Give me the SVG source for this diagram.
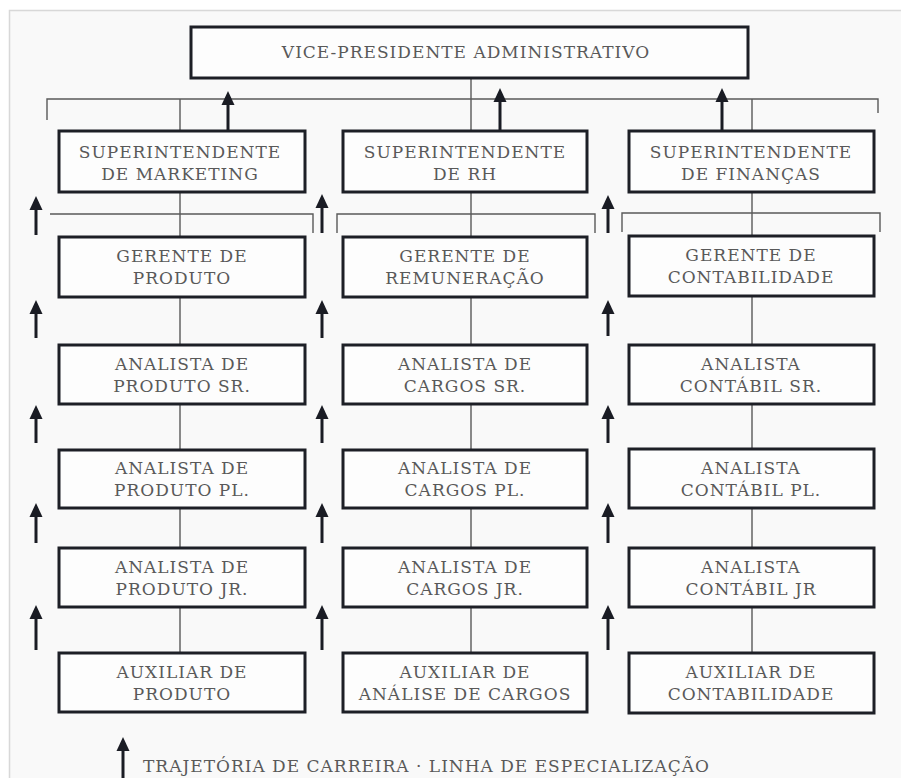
<svg xmlns="http://www.w3.org/2000/svg" width="901" height="778" viewBox="0 0 901 778">
  <style>
    .box { fill: #fdfdfd; stroke: #1d1f26; stroke-width: 3; }
    .lbl { font-family: "DejaVu Serif", "Liberation Serif", serif; font-size: 17px; letter-spacing: 1px; fill: #595959; text-anchor: middle; }
    .link { fill: none; stroke: #5a5a5a; stroke-width: 1.4; }
    .arrow { stroke: #1a1c24; stroke-width: 3; fill: none; marker-end: url(#head); }
    .legend { font-family: "DejaVu Serif", "Liberation Serif", serif; font-size: 17px; letter-spacing: 1px; fill: #595959; }
  </style>
  <defs>
    <marker id="head" markerUnits="userSpaceOnUse" markerWidth="14" markerHeight="14" viewBox="0 0 14 14" refX="7" refY="7" orient="auto">
      <path d="M0,0.5 L14,7 L0,13.5 Z" fill="#1a1c24"/>
    </marker>
  </defs>

  <!-- page and frame -->
  <rect x="0" y="0" width="901" height="778" fill="#ffffff"/>
  <rect x="9.5" y="10.5" width="892" height="768" fill="#f9f9f9"/>
  <path d="M901,10.5 H9.5 V778" fill="none" stroke="#d8d8d8" stroke-width="1.5"/>

  <!-- connectors -->
  <g id="connectors">
    <!-- top bracket -->
    <path class="link" d="M47,120 V99 H878 V113"/>
    <!-- column spines -->
    <line class="link" x1="180" y1="99" x2="180" y2="653"/>
    <line class="link" x1="471" y1="78" x2="471" y2="653"/>
    <line class="link" x1="752" y1="99" x2="752" y2="653"/>
    <!-- second-level brackets -->
    <path class="link" d="M50,214 H313 V233"/>
    <path class="link" d="M337,233 V214 H595 V233"/>
    <path class="link" d="M622,232 V213 H880 V232"/>

    <!-- career path arrows up to the vice-president -->
    <line class="arrow" x1="228" y1="131" x2="228" y2="98"/>
    <line class="arrow" x1="500" y1="131" x2="500" y2="95"/>
    <line class="arrow" x1="722" y1="131" x2="722" y2="95"/>

    <!-- career path arrows in the side lanes -->
    <g id="lane-left">
      <line class="arrow" x1="36" y1="235" x2="36" y2="203"/>
      <line class="arrow" x1="36" y1="338" x2="36" y2="307"/>
      <line class="arrow" x1="36" y1="443" x2="36" y2="412"/>
      <line class="arrow" x1="36" y1="543" x2="36" y2="510"/>
      <line class="arrow" x1="36" y1="650" x2="36" y2="612"/>
    </g>
    <g id="lane-mid">
      <line class="arrow" x1="322" y1="233" x2="322" y2="201"/>
      <line class="arrow" x1="322" y1="338" x2="322" y2="307"/>
      <line class="arrow" x1="322" y1="443" x2="322" y2="412"/>
      <line class="arrow" x1="322" y1="543" x2="322" y2="510"/>
      <line class="arrow" x1="322" y1="650" x2="322" y2="612"/>
    </g>
    <g id="lane-right">
      <line class="arrow" x1="608" y1="233" x2="608" y2="202"/>
      <line class="arrow" x1="608" y1="336" x2="608" y2="307"/>
      <line class="arrow" x1="608" y1="443" x2="608" y2="412"/>
      <line class="arrow" x1="608" y1="543" x2="608" y2="510"/>
      <line class="arrow" x1="608" y1="650" x2="608" y2="612"/>
    </g>
  </g>

  <!-- top -->
  <g id="vp">
    <rect class="box" x="191" y="27" width="557" height="51"/>
    <text class="lbl" x="466" y="58">VICE-PRESIDENTE ADMINISTRATIVO</text>
  </g>

  <!-- marketing column -->
  <g id="sup-marketing">
    <rect class="box" x="59" y="131" width="246" height="61"/>
    <text class="lbl" x="180" y="158">SUPERINTENDENTE</text>
    <text class="lbl" x="180" y="180">DE MARKETING</text>
  </g>
  <g id="ger-produto">
    <rect class="box" x="59" y="237" width="246" height="60"/>
    <text class="lbl" x="182" y="262">GERENTE DE</text>
    <text class="lbl" x="182" y="284">PRODUTO</text>
  </g>
  <g id="an-produto-sr">
    <rect class="box" x="59" y="345" width="246" height="59"/>
    <text class="lbl" x="182" y="370">ANALISTA DE</text>
    <text class="lbl" x="182" y="392">PRODUTO SR.</text>
  </g>
  <g id="an-produto-pl">
    <rect class="box" x="59" y="450" width="246" height="58"/>
    <text class="lbl" x="182" y="474">ANALISTA DE</text>
    <text class="lbl" x="182" y="496">PRODUTO PL.</text>
  </g>
  <g id="an-produto-jr">
    <rect class="box" x="59" y="548" width="246" height="59"/>
    <text class="lbl" x="182" y="573">ANALISTA DE</text>
    <text class="lbl" x="182" y="595">PRODUTO JR.</text>
  </g>
  <g id="aux-produto">
    <rect class="box" x="59" y="653" width="246" height="59"/>
    <text class="lbl" x="182" y="678">AUXILIAR DE</text>
    <text class="lbl" x="182" y="700">PRODUTO</text>
  </g>

  <!-- HR column -->
  <g id="sup-rh">
    <rect class="box" x="343" y="131" width="244" height="61"/>
    <text class="lbl" x="465" y="158">SUPERINTENDENTE</text>
    <text class="lbl" x="465" y="180">DE RH</text>
  </g>
  <g id="ger-remuneracao">
    <rect class="box" x="343" y="237" width="244" height="60"/>
    <text class="lbl" x="465" y="262">GERENTE DE</text>
    <text class="lbl" x="465" y="284">REMUNERAÇÃO</text>
  </g>
  <g id="an-cargos-sr">
    <rect class="box" x="343" y="345" width="244" height="59"/>
    <text class="lbl" x="465" y="370">ANALISTA DE</text>
    <text class="lbl" x="465" y="392">CARGOS SR.</text>
  </g>
  <g id="an-cargos-pl">
    <rect class="box" x="343" y="450" width="244" height="58"/>
    <text class="lbl" x="465" y="474">ANALISTA DE</text>
    <text class="lbl" x="465" y="496">CARGOS PL.</text>
  </g>
  <g id="an-cargos-jr">
    <rect class="box" x="343" y="548" width="244" height="59"/>
    <text class="lbl" x="465" y="573">ANALISTA DE</text>
    <text class="lbl" x="465" y="595">CARGOS JR.</text>
  </g>
  <g id="aux-cargos">
    <rect class="box" x="343" y="653" width="244" height="59"/>
    <text class="lbl" x="465" y="678">AUXILIAR DE</text>
    <text class="lbl" x="465" y="700">ANÁLISE DE CARGOS</text>
  </g>

  <!-- finance column -->
  <g id="sup-financas">
    <rect class="box" x="629" y="131" width="245" height="61"/>
    <text class="lbl" x="751" y="158">SUPERINTENDENTE</text>
    <text class="lbl" x="751" y="180">DE FINANÇAS</text>
  </g>
  <g id="ger-contabilidade">
    <rect class="box" x="629" y="236" width="245" height="60"/>
    <text class="lbl" x="751" y="261">GERENTE DE</text>
    <text class="lbl" x="751" y="283">CONTABILIDADE</text>
  </g>
  <g id="an-contabil-sr">
    <rect class="box" x="629" y="345" width="245" height="59"/>
    <text class="lbl" x="751" y="370">ANALISTA</text>
    <text class="lbl" x="751" y="392">CONTÁBIL SR.</text>
  </g>
  <g id="an-contabil-pl">
    <rect class="box" x="629" y="449" width="245" height="59"/>
    <text class="lbl" x="751" y="474">ANALISTA</text>
    <text class="lbl" x="751" y="496">CONTÁBIL PL.</text>
  </g>
  <g id="an-contabil-jr">
    <rect class="box" x="629" y="548" width="245" height="59"/>
    <text class="lbl" x="751" y="573">ANALISTA</text>
    <text class="lbl" x="751" y="595">CONTÁBIL JR</text>
  </g>
  <g id="aux-contabilidade">
    <rect class="box" x="629" y="653" width="245" height="60"/>
    <text class="lbl" x="751" y="678">AUXILIAR DE</text>
    <text class="lbl" x="751" y="700">CONTABILIDADE</text>
  </g>

  <!-- legend -->
  <g id="legend">
    <line class="arrow" x1="123" y1="778" x2="123" y2="744"/>
    <text class="legend" x="143" y="772">TRAJETÓRIA DE CARREIRA · LINHA DE ESPECIALIZAÇÃO</text>
  </g>
</svg>
